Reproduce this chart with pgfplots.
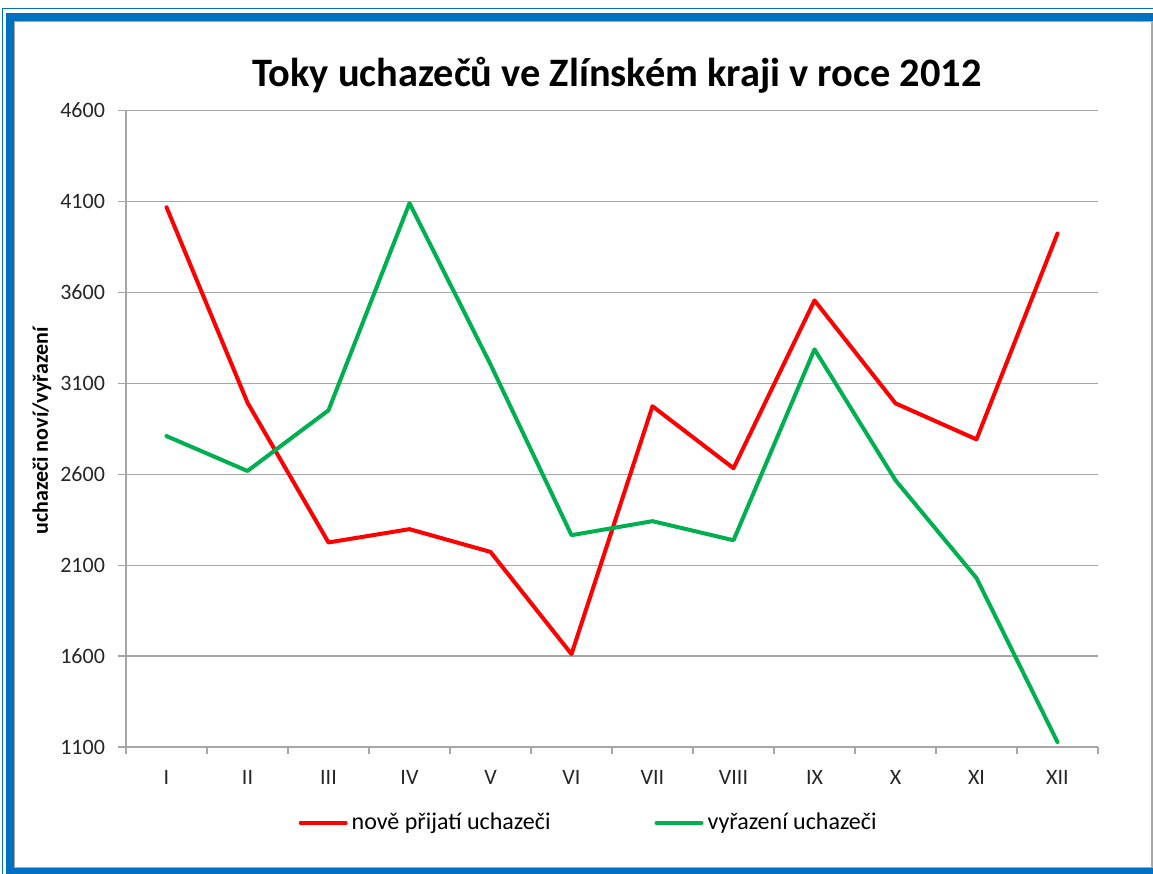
\documentclass[border=0pt]{standalone}
\usepackage{pgfplots}
\pgfplotsset{compat=1.18}
\usepackage{fontspec}
\setmainfont{Carlito}
\definecolor{frameblue}{HTML}{0070C0}
\definecolor{exred}{HTML}{FF0000}
\definecolor{exgreen}{HTML}{00B050}
\definecolor{gridgray}{HTML}{A6A6A6}
\begin{document}
\begin{tikzpicture}
\begin{scope}[x=0.5pt,y=0.5pt]
\useasboundingbox (0,0) rectangle (1153,874);
\fill[white] (0,0) rectangle (1153,874);
\begin{scope}
\clip (0,0) rectangle (1153,874);
\draw[frameblue, line width=0.6pt] (2.5,865.5) rectangle (1165,-11);
\draw[frameblue, line width=4pt] (10,857) rectangle (1157,2);
\draw[gray!70, line width=0.6pt] (14.8,852.5) rectangle (1152,6.5);
\end{scope}
\node[font=\bfseries\fontsize{20.2}{24}\selectfont] at (617,799) {Toky uchazečů ve Zlínském kraji v roce 2012};
\node[rotate=90, font=\bfseries\fontsize{11}{13}\selectfont] at (42,443) {uchazeči noví/vyřazení};
\end{scope}
\begin{axis}[
  at={(63pt,63.5pt)}, anchor=south west,
  scale only axis, width=486pt, height=318.2pt,
  xmin=0.5, xmax=12.5, ymin=1100, ymax=4600,
  ytick={1100,1600,2100,2600,3100,3600,4100,4600},
  xtick={1,...,12},
  xticklabels={I,II,III,IV,V,VI,VII,VIII,IX,X,XI,XII},
  minor xtick={0.5,1.5,...,12.5},
  major x tick style={draw=none},
  tick align=outside,
  major tick length=4pt, minor tick length=3.5pt,
  axis x line*=bottom, axis y line*=left,
  axis line style={gridgray, line width=0.6pt},
  every tick/.style={gridgray, line width=0.6pt},
  ymajorgrids, grid style={gridgray, line width=0.6pt},
  /pgf/number format/assume math mode=true,
  /pgf/number format/1000 sep={},
  tick label style={font=\fontsize{11}{13}\selectfont, text=black!85},
  y tick label style={xshift=-3pt},
  x tick label style={yshift=-4pt},
  legend columns=2,
  legend style={draw=none, fill=none, at={(0.477,-0.1194)}, anchor=center,
    font=\fontsize{12}{14}\selectfont,
    /tikz/every even column/.append style={column sep=50pt},
    inner sep=0pt},
  legend image code/.code={\draw[#1] (0pt,0pt) -- (22.5pt,0pt);},
]
\addplot[exred, line width=2pt, line join=round, line cap=round] coordinates {
(1,4069) (2,2994) (3,2225) (4,2298) (5,2173) (6,1611)
(7,2974) (8,2633) (9,3556) (10,2990) (11,2792) (12,3924)};
\addlegendentry{nově přijatí uchazeči}
\addplot[exgreen, line width=2pt, line join=round, line cap=round] coordinates {
(1,2810) (2,2618) (3,2952) (4,4091) (5,3204) (6,2265)
(7,2342) (8,2237) (9,3287) (10,2567) (11,2029) (12,1127)};
\addlegendentry{vyřazení uchazeči}
\end{axis}
\end{tikzpicture}
\end{document}
